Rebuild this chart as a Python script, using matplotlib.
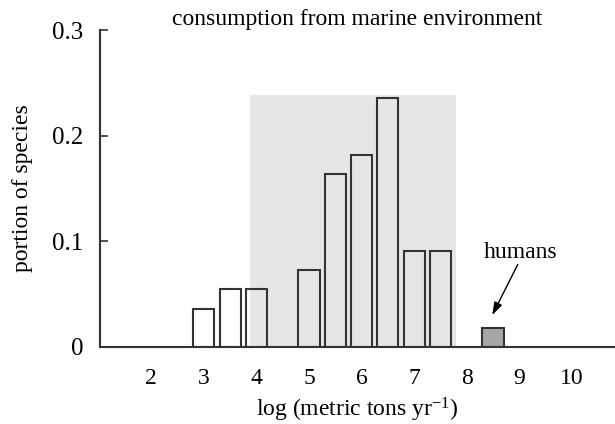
import matplotlib
matplotlib.use("Agg")
import matplotlib.pyplot as plt

plt.rcParams["font.family"] = ["Liberation Serif", "DejaVu Serif"]
plt.rcParams["mathtext.fontset"] = "custom"
plt.rcParams["mathtext.rm"] = "Liberation Serif"
plt.rcParams["mathtext.it"] = "Liberation Serif:italic"

# histogram bins (log metric tons per year) and portion of species
bin_centers = [3.0, 3.5, 4.0, 5.0, 5.5, 6.0, 6.5, 7.0, 7.5]
portions = [0.036, 0.055, 0.055, 0.073, 0.164, 0.182, 0.236, 0.091, 0.091]

human_center = 8.5
human_portion = 0.018

# shaded range of the bulk of species
shade_lo, shade_hi, shade_top = 3.88, 7.8, 0.239

x_ticks = [2, 3, 4, 5, 6, 7, 8, 9, 10]
y_ticks = [0, 0.1, 0.2, 0.3]
y_ticklabels = ["0", "0.1", "0.2", "0.3"]

edge = "#333333"
fs = 17

fig = plt.figure(figsize=(6.15, 4.24), dpi=100)
ax = fig.add_axes([0.163, 0.182, 0.837, 0.747])

ax.fill_between([shade_lo, shade_hi], 0, shade_top, color="#e6e6e6", lw=0, zorder=1)
ax.bar(bin_centers, portions, width=0.4, facecolor="none", edgecolor=edge,
       linewidth=1.5, zorder=2)
ax.bar([human_center], [human_portion], width=0.4, facecolor="#a6a6a6",
       edgecolor=edge, linewidth=1.5, zorder=2)

ax.text(9.03, 0.089, "humans", ha="center", va="center", fontsize=fs)
ax.annotate("", xy=(8.485, 0.030), xytext=(8.97, 0.078),
            arrowprops=dict(arrowstyle="-|>,head_length=0.55,head_width=0.18",
                            color="black", lw=1.0, shrinkA=0, shrinkB=0,
                            mutation_scale=14))

ax.set_xlim(1.03, 10.82)
ax.set_ylim(0, 0.3)
ax.set_xticks(x_ticks)
ax.set_yticks(y_ticks)
ax.set_yticklabels(y_ticklabels)
ax.tick_params(axis="x", length=0, pad=15, labelsize=fs)
ax.tick_params(axis="y", direction="in", length=6, width=1.2, color=edge,
               pad=12, labelsize=fs + 1)

for side in ("top", "right"):
    ax.spines[side].set_visible(False)
for side in ("left", "bottom"):
    ax.spines[side].set_color(edge)
    ax.spines[side].set_linewidth(1.5)

ax.set_title("consumption from marine environment", fontsize=fs, pad=2)
ax.set_ylabel("portion of species", fontsize=fs, labelpad=14)
ax.set_xlabel(r"log (metric tons yr$^{-1}$)", fontsize=fs, labelpad=5)

fig.savefig("out.png", dpi=100)
